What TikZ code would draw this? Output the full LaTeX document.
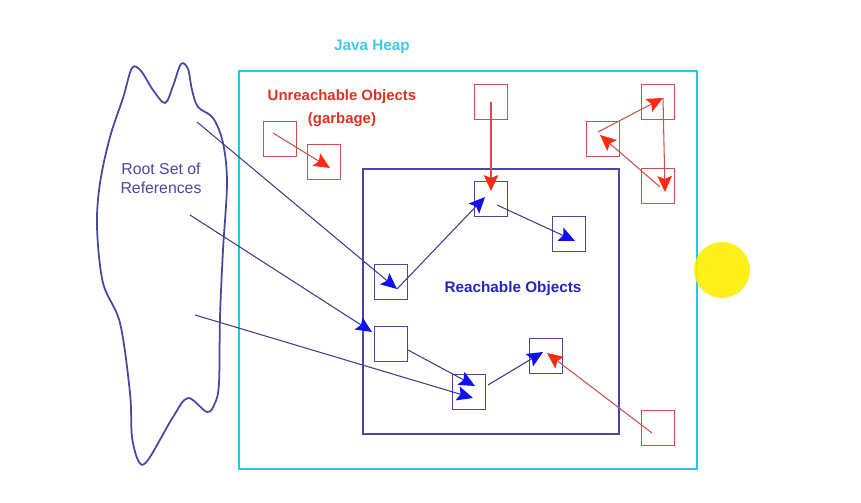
\documentclass[tikz,border=0pt]{standalone}
\usepackage{fontspec}
\setmainfont{Liberation Sans}
\usetikzlibrary{arrows.meta}
\definecolor{heapcyan}{HTML}{22CCDD}
\definecolor{heaptext}{HTML}{44C8E8}
\definecolor{navyline}{HTML}{4848A0}
\definecolor{objblue}{HTML}{2424C0}
\definecolor{tipblue}{HTML}{1010F0}
\definecolor{boxred}{HTML}{CC5050}
\definecolor{garbred}{HTML}{E03020}
\definecolor{tipred}{HTML}{FF2A10}

\begin{document}
\begin{tikzpicture}[x=0.02cm, y=-0.02cm, every node/.style={align=center},
  redobj/.style={draw=boxred, thick, minimum width=0.67cm, minimum height=0.71cm, inner sep=0pt},
  blueobj/.style={draw=navyline, thick, minimum width=0.66cm, minimum height=0.7cm, inner sep=0pt},
  bluelink/.style={draw=navyline!85!black, line width=0.6pt, -{Stealth[length=3.2mm, width=2.9mm, inset=0.6mm, color=tipblue]}},
  redlink/.style={draw=boxred, line width=0.6pt, -{Stealth[length=3.2mm, width=2.9mm, inset=0.6mm, color=tipred]}}]
\useasboundingbox (0,0) rectangle (861,503);

% Root set (cloud)
\draw[navyline, line width=1pt] plot[smooth cycle, tension=0.55] coordinates {
  (132,68) (141,71) (153,90) (165,103) (173,86) (181,64) (188,69) (192,90) (198,107)
  (213,118) (223,143) (227,183) (223,250) (220,317) (219,383) (215,403) (207,412)
  (188,398) (173,417) (148,460) (139,462) (132,437) (130,393) (120,323) (103,283)
  (97,227) (100,183) (110,137) (123,98)};
\node[text=navyline, font=\fontsize{9}{10.8}\selectfont] (rootlbl) at (161,178) {Root Set of\\References};
\coordinate (ref1) at (197,122);
\coordinate (ref2) at (190,215);
\coordinate (ref3) at (195,315);

% Java heap
\draw[heapcyan, line width=1.6pt] (239,71) rectangle (697,469);
\node[text=heaptext, font=\bfseries\fontsize{8.7}{10}\selectfont] (heaplbl) at (372,47) {Java Heap};

% Reachable area
\draw[navyline, line width=0.9pt] (363,169) rectangle (619,434);
\node[text=objblue, font=\bfseries\fontsize{8.7}{10}\selectfont] (reachlbl) at (513,289) {Reachable Objects};

% Unreachable label
\node[text=garbred, font=\bfseries\fontsize{8.5}{13}\selectfont] (garblbl) at (342,108) {Unreachable Objects\\(garbage)};

% Unreachable objects
\node[redobj] (g1) at (280,139) {};
\node[redobj] (g2) at (324,162) {};
\node[redobj] (rtop) at (491,102) {};
\node[redobj] (t1) at (658,102) {};
\node[redobj] (t2) at (603,139) {};
\node[redobj] (t3) at (658,186) {};
\node[redobj] (rbot) at (658,428) {};

% Reachable objects
\node[blueobj] (oa) at (391,282) {};
\node[blueobj] (ob) at (491,199) {};
\node[blueobj] (oc) at (569,234) {};
\node[blueobj] (od) at (391,344) {};
\node[blueobj] (oe) at (469,392) {};
\node[blueobj] (of) at (546,356) {};

% References from root set
\draw[bluelink] (ref1) -- ([shift={(6,7)}]oa.center);
\draw[bluelink] (ref2) -- ([shift={(-19,-12)}]od.center);
\draw[bluelink] (ref3) -- ([shift={(4,6)}]oe.center);

% Links between reachable objects
\draw[bluelink] ([shift={(6,7)}]oa.center) -- ([shift={(-6,-2)}]ob.center);
\draw[bluelink] ([shift={(6,6)}]ob.center) -- ([shift={(6,7)}]oc.center);
\draw[bluelink] ([shift={(17,6)}]od.center) -- ([shift={(6,-6)}]oe.center);
\draw[bluelink] ([shift={(19,-7)}]oe.center) -- ([shift={(-3,-4)}]of.center);

% Links from garbage
\draw[redlink] (rtop.center) -- ([yshift=0.16cm]ob.center);
\draw[redlink] ([shift={(-6,5)}]rbot.center) -- ([shift={(1,-3)}]of.center);
\draw[redlink] ([shift={(-7,-6)}]g1.center) -- ([shift={(6,6)}]g2.center);

% Garbage cycle
\draw[redlink] ([shift={(-5,-7)}]t2.center) -- ([shift={(5,-4)}]t1.center);
\draw[redlink] ([shift={(5,-4)}]t1.center) -- ([shift={(7,6)}]t3.center);
\draw[redlink] ([shift={(2,1)}]t3.center) -- ([shift={(-3,-4)}]t2.center);

% Pointer highlight
\fill[yellow!95!orange, opacity=0.9] (722,270) circle (0.56cm);
\end{tikzpicture}
\end{document}
